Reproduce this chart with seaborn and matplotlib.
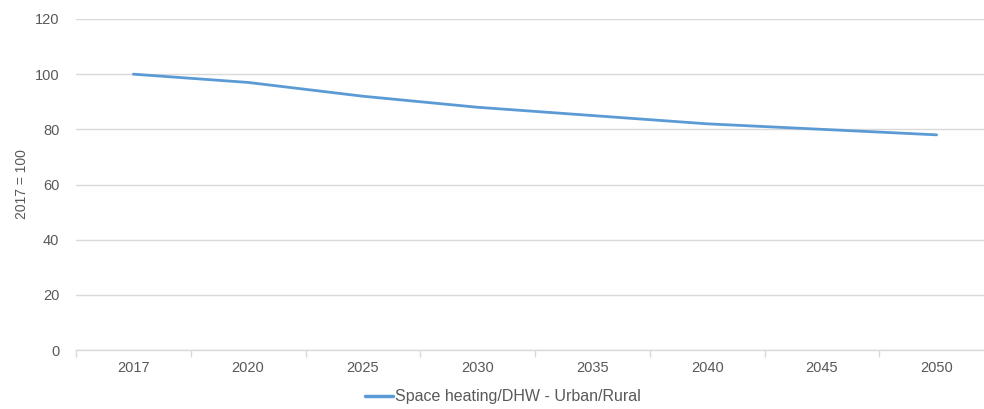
import matplotlib
matplotlib.use("Agg")
import matplotlib.pyplot as plt
import seaborn as sns
import pandas as pd
from matplotlib.ticker import FixedLocator

years = ["2017", "2020", "2025", "2030", "2035", "2040", "2045", "2050"]
index_values = [100, 97, 92, 88, 85, 82, 80, 78]
series_name = "Space heating/DHW - Urban/Rural"
y_ticks = [0, 20, 40, 60, 80, 100, 120]

df = pd.DataFrame({"year": years, "value": index_values, "series": series_name})

sns.set_theme(style="white")
plt.rcParams["font.family"] = ["Liberation Sans", "DejaVu Sans"]

W, H = 984, 409
fig = plt.figure(figsize=(W / 100, H / 100), dpi=100)
left, right, top, bottom = 76, 994, 19, 350
ax = fig.add_axes([left / W, 1 - bottom / H, (right - left) / W, (bottom - top) / H])

sns.lineplot(data=df, x="year", y="value", hue="series", palette=["#5B9BD5"],
             linewidth=2.0, ax=ax, sort=False)

ax.set_xlim(-0.5, len(years) - 0.5)
ax.set_ylim(0, 120)
ax.set_yticks(y_ticks)
ax.grid(axis="y", color="#D9D9D9", linewidth=1.0)
ax.set_axisbelow(True)
for s in ["top", "right", "left"]:
    ax.spines[s].set_visible(False)
ax.spines["bottom"].set_color("#D9D9D9")
ax.spines["bottom"].set_linewidth(1.0)

ax.xaxis.set_minor_locator(FixedLocator([i - 0.5 for i in range(len(years) + 1)]))
ax.tick_params(axis="x", which="major", length=0, pad=8, labelsize=10.5, labelcolor="#595959")
ax.tick_params(axis="x", which="minor", length=5, width=1, color="#D9D9D9", direction="out")
ax.tick_params(axis="y", length=0, pad=12, labelsize=10.5, labelcolor="#595959")
ax.xaxis.set_tick_params(bottom=True, which="both")

ax.set_xlabel("")
ax.set_ylabel("2017 = 100", fontsize=10, color="#595959", labelpad=4)

leg = ax.legend(loc="center", frameon=False, fontsize=11.5, handlelength=1.7,
                handletextpad=0.15, labelcolor="#595959")
for line in leg.get_lines():
    line.set_linewidth(2.5)
leg.set_bbox_to_anchor((503 / W, 1 - 397 / H), transform=fig.transFigure)

fig.savefig("out.png", dpi=100, facecolor="white")
